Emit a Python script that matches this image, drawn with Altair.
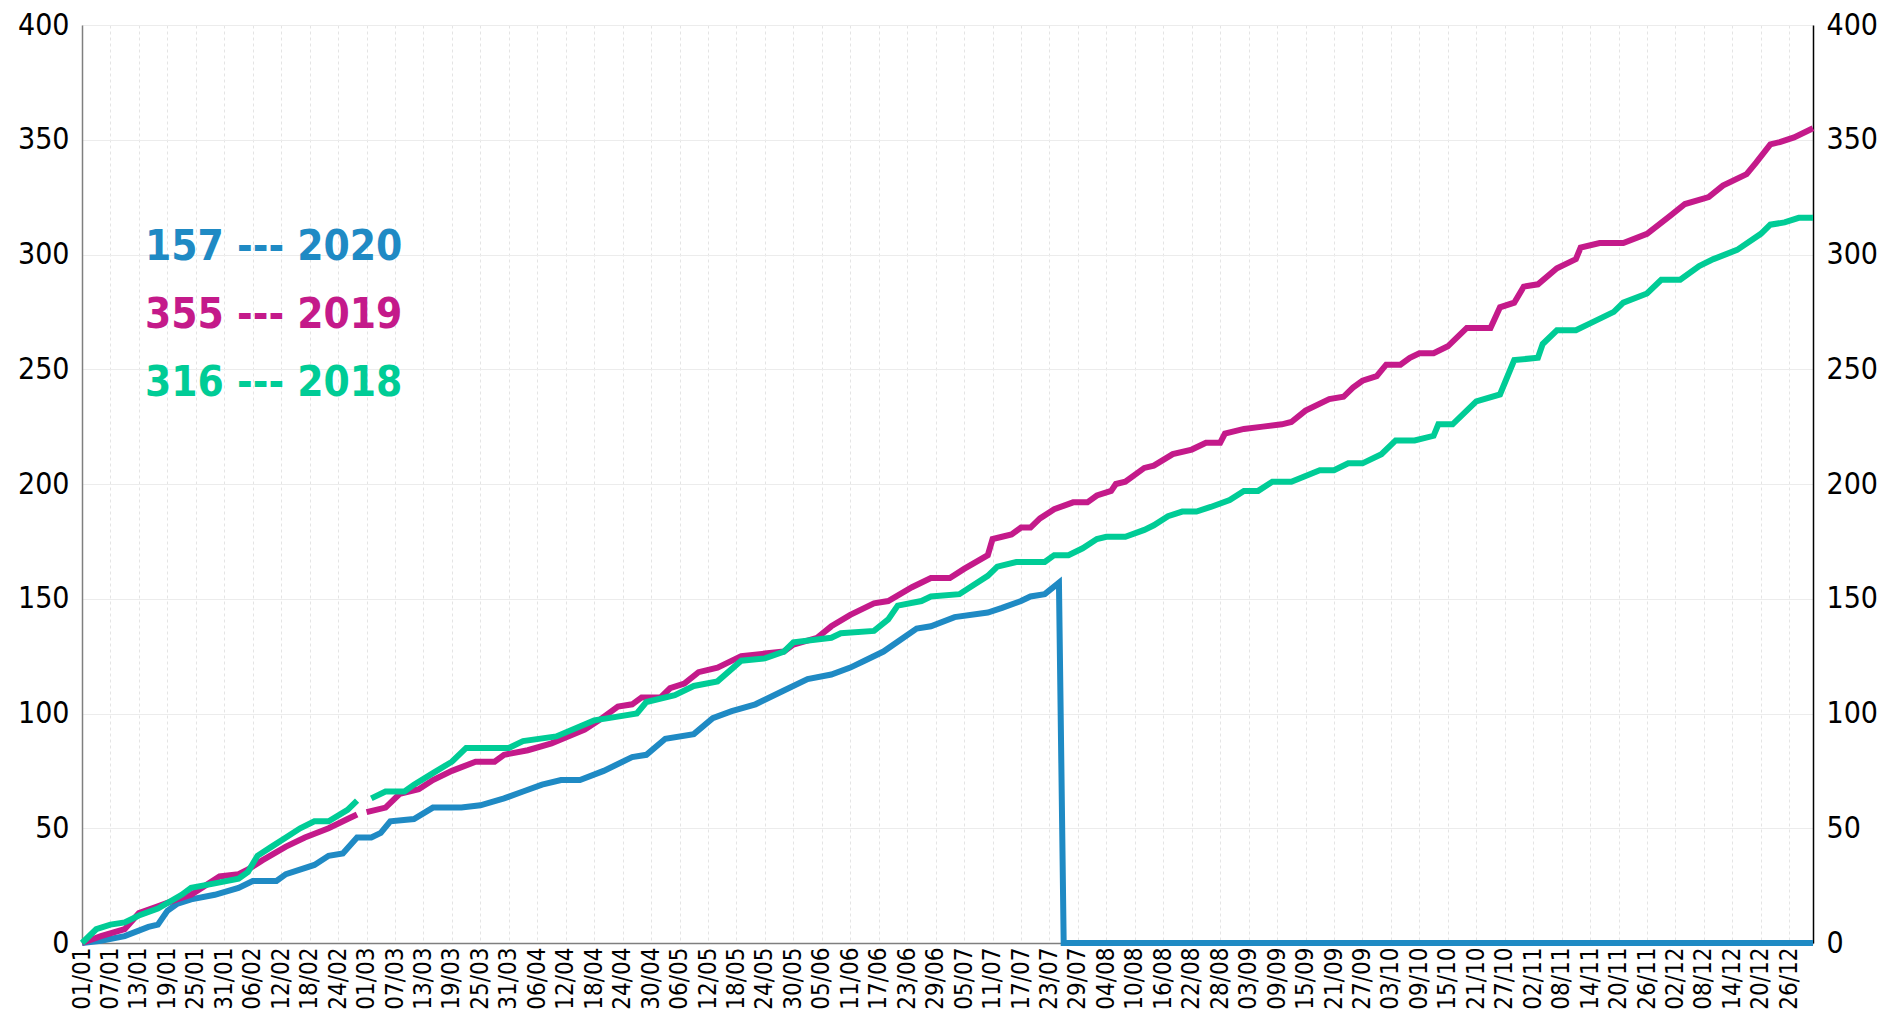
import altair as alt
import pandas as pd

# ---------------- data (day index 0 = 01/01, leap-year calendar) ----------------
TICK_LABELS = ["01/01", "07/01", "13/01", "19/01", "25/01", "31/01", "06/02", "12/02", "18/02", "24/02",
               "01/03", "07/03", "13/03", "19/03", "25/03", "31/03", "06/04", "12/04", "18/04", "24/04",
               "30/04", "06/05", "12/05", "18/05", "24/05", "30/05", "05/06", "11/06", "17/06", "23/06",
               "29/06", "05/07", "11/07", "17/07", "23/07", "29/07", "04/08", "10/08", "16/08", "22/08",
               "28/08", "03/09", "09/09", "15/09", "21/09", "27/09", "03/10", "09/10", "15/10", "21/10",
               "27/10", "02/11", "08/11", "14/11", "20/11", "26/11", "02/12", "08/12", "14/12", "20/12",
               "26/12"]

DAYS_2020 = [0, 4, 9, 14, 16, 18, 20, 23, 28, 33, 36, 41, 43, 49, 52, 55, 58, 61, 63, 65, 70, 74, 80, 84,
             89, 93, 97, 101, 105, 110, 116, 119, 123, 129, 133, 137, 142, 148, 153, 158, 162, 165, 169,
             176, 179, 184, 191, 194, 198, 200, 203, 206, 207, 365]
VALS_2020 = [0, 1, 3, 7, 8, 14, 17, 19, 21, 24, 27, 27, 30, 34, 38, 39, 46, 46, 48, 53, 54, 59, 59, 60,
             63, 66, 69, 71, 71, 75, 81, 82, 89, 91, 98, 101, 104, 110, 115, 117, 120, 123, 127,
             137, 138, 142, 144, 146, 149, 151, 152, 157, 0, 0]

DAYS_2019 = [0, 4, 9, 12, 16, 20, 23, 29, 33, 35, 38, 43, 47, 52, 56, 58,
             60, 64, 67, 71, 74, 78, 83, 87, 89, 94, 99, 106, 109, 113, 116, 118, 122, 124, 127, 130,
             134, 139, 148, 150, 155, 158, 162, 167, 170, 175, 179, 183, 186, 191, 192, 194, 196, 198,
             200, 202, 205, 209, 212, 214, 217, 218, 220, 224, 226, 230, 234, 237, 240, 241, 245, 249,
             253, 255, 258, 263, 266, 268, 270, 273, 275, 278, 280, 282, 285, 288, 292, 297, 299, 302,
             304, 307, 311, 315, 316, 320, 325, 330, 335, 338, 343, 346, 351, 353, 356, 358, 361, 365]
VALS_2019 = [0, 3, 6, 13, 16, 19, 21, 29, 30, 32, 36, 42, 46, 50, 54, 56,
             57, 59, 65, 67, 71, 75, 79, 79, 82, 84, 87, 93, 97, 103, 104, 107, 107, 111, 113, 118,
             120, 125, 127, 130, 133, 138, 143, 148, 149, 155, 159, 159, 163, 169, 176, 177, 178, 181,
             181, 185, 189, 192, 192, 195, 197, 200, 201, 207, 208, 213, 215, 218, 218, 222, 224, 225,
             226, 227, 232, 237, 238, 242, 245, 247, 252, 252, 255, 257, 257, 260, 268, 268, 277, 279,
             286, 287, 294, 298, 303, 305, 305, 309, 317, 322, 325, 330, 335, 340, 348, 349, 351, 355]

DAYS_2018 = [0, 3, 6, 9, 12, 16, 21, 23, 28, 33, 35, 37, 40, 43, 46, 49, 52, 56, 58,
             61, 64, 68, 70, 74, 78, 81, 90, 93, 100, 108, 111, 117, 119, 125, 129, 134, 139, 144, 148,
             150, 158, 160, 167, 170, 172, 177, 179, 185, 188, 191, 193, 197, 203, 205, 208, 211, 214,
             216, 220, 224, 226, 229, 232, 235, 238, 242, 245, 248, 251, 255, 261, 264, 267, 270, 274,
             277, 281, 285, 286, 289, 294, 299, 300, 302, 307, 308, 311, 315, 318, 323, 325, 330, 333,
             337, 341, 344, 349, 354, 356, 359, 362, 365]
VALS_2018 = [0, 6, 8, 9, 12, 15, 21, 24, 26, 28, 31, 38, 42, 46, 50, 53, 53, 58, 62,
             63, 66, 66, 69, 74, 79, 85, 85, 88, 90, 97, 98, 100, 105, 108, 112, 114, 123, 124, 127,
             131, 133, 135, 136, 141, 147, 149, 151, 152, 156, 160, 164, 166, 166, 169, 169, 172, 176,
             177, 177, 180, 182, 186, 188, 188, 190, 193, 197, 197, 201, 201, 206, 206, 209, 209, 213,
             219, 219, 221, 226, 226, 236, 239, 244, 254, 255, 261, 267, 267, 270, 275, 279, 283, 289,
             289, 295, 298, 302, 309, 313, 314, 316, 316]

LEAP_DAY = 59  # 29/02 missing in 2018 and 2019

YEARS = [2020, 2019, 2018]
COUNTS = [157, 355, 316]
COLORS = ["#1F8AC4", "#C41A8A", "#00CC96"]

FONT = "DejaVu Sans Condensed"


def series_df(days, vals, year, has_gap):
    rows = []
    for d, v in zip(days, vals):
        seg = 1 if (has_gap and d > LEAP_DAY) else 0
        rows.append({"day": d, "value": v, "year": str(year), "seg": f"{year}-{seg}"})
    return pd.DataFrame(rows)


df2020 = series_df(DAYS_2020, VALS_2020, 2020, False)
df2019 = series_df(DAYS_2019, VALS_2019, 2019, True)
df2018 = series_df(DAYS_2018, VALS_2018, 2018, True)

tick_values = [6 * i for i in range(len(TICK_LABELS))]
label_array = "[" + ",".join("'" + t + "'" for t in TICK_LABELS) + "]"
label_expr = label_array + "[round(datum.value / 6)]"

x_enc = alt.X(
    "day:Q",
    scale=alt.Scale(domain=[0, 365], nice=False, zero=False),
    axis=alt.Axis(
        values=tick_values,
        labelExpr=label_expr,
        labelAngle=-90,
        labelFont=FONT,
        labelFontSize=24,
        labelColor="#000000",
        labelPadding=4,
        labelOverlap=False,
        labelBound=False,
        ticks=False,
        grid=True,
        gridColor="#e4e4e4",
        gridDash=[3, 3],
        gridWidth=1,
        domainColor="#7f7f7f",
        domainWidth=1.5,
        title=None,
    ),
)

y_values = [0, 50, 100, 150, 200, 250, 300, 350, 400]
y_scale = alt.Scale(domain=[0, 400], nice=False, zero=True)

y_left = alt.Y(
    "value:Q",
    scale=y_scale,
    axis=alt.Axis(
        values=y_values,
        orient="left",
        labelFont=FONT,
        labelFontSize=30,
        labelColor="#000000",
        labelPadding=13,
        ticks=False,
        grid=True,
        gridColor="#ececec",
        gridWidth=1,
        domainColor="#7f7f7f",
        domainWidth=1.5,
        title=None,
    ),
)


def line_layer(df, color):
    return alt.Chart(df).mark_line(
        color=color, strokeWidth=6, strokeJoin="miter", strokeCap="butt"
    ).encode(x=x_enc, y=y_left, detail="seg:N")


lines = [line_layer(d, c) for d, c in zip([df2020, df2019, df2018], COLORS)]

legend_layers = []
for i, (cnt, yr, col) in enumerate(zip(COUNTS, YEARS, COLORS)):
    tdf = pd.DataFrame({"label": [f"{cnt} --- {yr}"]})
    legend_layers.append(
        alt.Chart(tdf).mark_text(
            font=FONT, fontSize=42, fontWeight="bold", color=col, align="left", baseline="alphabetic"
        ).encode(x=alt.value(63), y=alt.value(235 + 68 * i), text="label:N")
    )

inner = alt.layer(*lines, *legend_layers)

right_axis = alt.Chart(df2018).mark_line(opacity=0).encode(
    x=x_enc,
    y=alt.Y(
        "value:Q",
        scale=y_scale,
        axis=alt.Axis(
            values=y_values,
            orient="right",
            labelFont=FONT,
            labelFontSize=30,
            labelColor="#000000",
            labelPadding=13,
            ticks=False,
            grid=False,
            domainColor="#000000",
            domainWidth=1.5,
            title=None,
        ),
    ),
)

chart = (
    alt.layer(inner, right_axis)
    .resolve_scale(y="independent")
    .properties(
        width=1731,
        height=918,
        autosize=alt.AutoSizeParams(type="none"),
        padding={"left": 74, "top": 17, "right": 78, "bottom": 66},
        background="#ffffff",
    )
    .configure_view(stroke=None)
)

chart.save("out.html", embed_options={"renderer": "svg", "actions": False})
